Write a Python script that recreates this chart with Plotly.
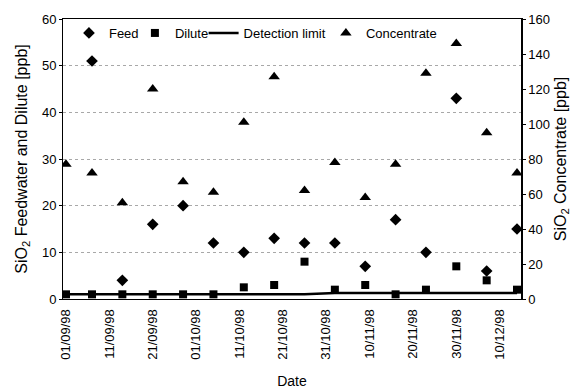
import plotly.graph_objects as go

# ---- data ----
dates = ["1998-09-01", "1998-09-07", "1998-09-14", "1998-09-21", "1998-09-28",
         "1998-10-05", "1998-10-12", "1998-10-19", "1998-10-26", "1998-11-02",
         "1998-11-09", "1998-11-16", "1998-11-23", "1998-11-30", "1998-12-07",
         "1998-12-14"]
feed = [None, 51, 4, 16, 20, 12, 10, 13, 12, 12, 7, 17, 10, 43, 6, 15]
dilute = [1, 1, 1, 1, 1, 1, 2.5, 3, 8, 2, 3, 1, 2, 7, 4, 2]
concentrate = [77, 72, 55, 120, 67, 61, 101, 127, 62, 78, 58, 77, 129, 146, 95, 72]
detection_limit = [1, 1, 1, 1, 1, 1, 1, 1, 1, 1.3, 1.3, 1.3, 1.3, 1.3, 1.3, 1.3]

tick_dates = ["1998-09-01", "1998-09-11", "1998-09-21", "1998-10-01", "1998-10-11",
              "1998-10-21", "1998-10-31", "1998-11-10", "1998-11-20", "1998-11-30",
              "1998-12-10"]
tick_labels = ["01/09/98", "11/09/98", "21/09/98", "01/10/98", "11/10/98",
               "21/10/98", "31/10/98", "10/11/98", "20/11/98", "30/11/98",
               "10/12/98"]

FONT = "Liberation Sans, Arial, sans-serif"

fig = go.Figure()
fig.add_trace(go.Scatter(x=dates, y=feed, mode="markers", name="Feed",
                         marker=dict(symbol="diamond", size=9, color="black"),
                         legend="legend"))
fig.add_trace(go.Scatter(x=dates, y=dilute, mode="markers", name="Dilute",
                         marker=dict(symbol="square", size=8, color="black"),
                         legend="legend2"))
fig.add_trace(go.Scatter(x=dates, y=detection_limit, mode="lines", name="Detection limit",
                         line=dict(color="black", width=2.5),
                         legend="legend3"))
fig.add_trace(go.Scatter(x=dates, y=concentrate, mode="markers", name="Concentrate",
                         marker=dict(symbol="triangle-up", size=10, color="black"),
                         yaxis="y2", legend="legend4"))

leg_common = dict(orientation="h", yanchor="middle", y=0.95, xanchor="left",
                  bgcolor="rgba(0,0,0,0)", font=dict(family=FONT, size=13, color="black"))

fig.update_layout(
    width=571, height=389,
    margin=dict(l=63, r=50, t=19, b=90, autoexpand=False),
    paper_bgcolor="white", plot_bgcolor="white",
    font=dict(family=FONT, color="black", size=13),
    showlegend=True,
    legend=dict(x=0.013, **leg_common),
    legend2=dict(x=0.157, **leg_common),
    legend3=dict(x=0.307, **leg_common),
    legend4=dict(x=0.574, **leg_common),
    xaxis=dict(
        type="date", automargin=False,
        range=["1998-08-31 07:30", "1998-12-14 22:00"],
        tickvals=tick_dates, ticktext=tick_labels,
        tickangle=-90, tickfont=dict(size=13),
        ticks="", showgrid=False, zeroline=False,
        showline=True, linecolor="black", linewidth=1, mirror=True,
        ticklabelstandoff=4,
        title=dict(text="Date", font=dict(size=14), standoff=17),
    ),
    yaxis=dict(
        range=[0, 60], dtick=10, automargin=False,
        tickfont=dict(size=13),
        ticks="outside", ticklen=3, tickcolor="black",
        showgrid=True, gridcolor="#a8a8a8", griddash="dot", gridwidth=1,
        zeroline=False,
        showline=True, linecolor="black", linewidth=1,
        title=dict(text="SiO<sub>2</sub> Feedwater and Dilute [ppb]",
                   font=dict(size=16), standoff=10),
    ),
    yaxis2=dict(
        range=[0, 160], dtick=20, overlaying="y", side="right", automargin=False,
        tickfont=dict(size=13),
        ticks="outside", ticklen=3, tickcolor="black",
        showgrid=False, zeroline=False,
        showline=True, linecolor="black", linewidth=1.5,
        title=dict(text="SiO<sub>2</sub> Concentrate [ppb]",
                   font=dict(size=16), standoff=7),
    ),
)

fig.write_html("out.html")
